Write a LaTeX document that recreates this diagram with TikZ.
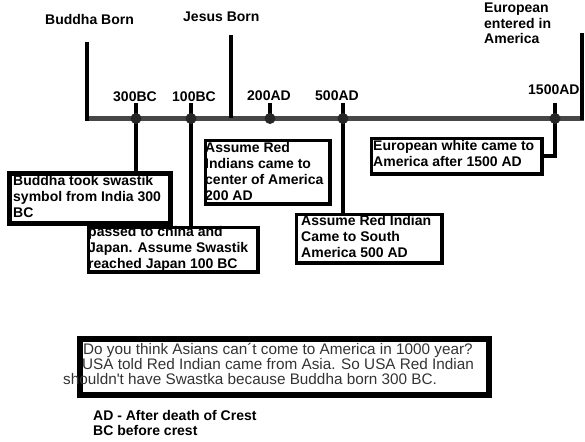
\documentclass[tikz,border=0pt]{standalone}
\usepackage{fontspec}
\setmainfont{Liberation Sans}
\newcommand{\tp}{\rule{0pt}{11pt}}
\begin{document}
\begin{tikzpicture}[x=1pt,y=-1pt,
  lbl/.style={font=\bfseries\fontsize{14}{16}\selectfont, inner sep=0, align=left},
  qtxt/.style={font=\fontsize{15.3}{15}\selectfont, text=black!80, inner sep=0, anchor=base west},
  bx/.style={draw, line width=#1, inner sep=0, anchor=north west},
  bar/.style={draw=black!72, line width=5},
  stem/.style={draw=black, line width=4},
  dot/.style={circle, fill=black!85, minimum size=11pt, inner sep=0}]
\useasboundingbox (0,0) rectangle (585,441);
% timeline
\coordinate (tlL) at (85,118.5);
\coordinate (tlR) at (584,118.5);
\draw[bar] (tlL) -- (tlR);
% tall verticals
\coordinate (vbT) at (87,42);  \coordinate (vbB) at (87,121);
\coordinate (vjT) at (231,35); \coordinate (vjB) at (231,118);
\coordinate (veT) at (582,33); \coordinate (veB) at (582,120);
\draw[stem] (vbT) -- (vbB);
\draw[stem] (vjT) -- (vjB);
\draw[stem] (veT) -- (veB);
% top labels
\node[lbl, anchor=base west] (lbud) at (45,25) {Buddha Born};
\node[lbl, anchor=base west] (ljes) at (183,22) {Jesus Born};
\node[lbl, anchor=north west, font=\bfseries\fontsize{14}{15.5}\selectfont] (leur) at (484,1.5) {\tp European\\entered in\\America};
% year labels
\node[lbl, anchor=base west] (y1) at (113,102) {300BC};
\node[lbl, anchor=base west] (y2) at (172,102) {100BC};
\node[lbl, anchor=base west] (y3) at (247,100) {200AD};
\node[lbl, anchor=base west] (y4) at (315,100) {500AD};
\node[lbl, anchor=base west] (y5) at (528,95) {1500AD};
% texts in boxes
\node[lbl, anchor=north west] (t1) at (13,174) {\tp Buddha took swastik\\symbol from India 300\\BC};
\node[lbl, anchor=north west] (t2) at (88,225) {\tp passed to china and\\Japan. Assume Swastik\\reached Japan 100 BC};
\node[lbl, anchor=north west] (t3) at (205,141) {\tp Assume Red\\Indians came to\\center of America\\200 AD};
\node[lbl, anchor=north west] (t4) at (301,214) {\tp Assume Red Indian\\Came to South\\America 500 AD};
\node[lbl, anchor=north west] (t5) at (373,139) {\tp European white came to\\America after 1500 AD};
% boxes
\node[bx=5, minimum width=161, minimum height=50] (b1) at (6.5,170.5) {};
\node[bx=3.5, minimum width=169.5, minimum height=44.5] (b2) at (86.75,225.75) {};
\node[bx=3.5, minimum width=124.5, minimum height=63.5] (b3) at (203.75,138.75) {};
\node[bx=3.5, minimum width=145.5, minimum height=48.5] (b4) at (294.75,212.75) {};
\node[bx=3.5, minimum width=170.5, minimum height=35.5] (b5) at (369.75,136.75) {};
\node[bx=6, minimum width=409, minimum height=56] (b6) at (77,336) {};
% markers positions
\coordinate (p1) at (136,118.5);
\coordinate (p2) at (191,118.5);
\coordinate (p3) at (270,118.5);
\coordinate (p4) at (343,118.5);
\coordinate (p5) at (555,118.5);
% stubs up
\coordinate (s1) at (136,103);
\coordinate (s2) at (191,103);
\coordinate (s3) at (270,103);
\coordinate (s4) at (343,103);
\coordinate (s5) at (555,103);
\draw[stem] (s1) -- (p1);
\draw[stem] (s2) -- (p2);
\draw[stem] (s3) -- (p3);
\draw[stem] (s4) -- (p4);
\draw[stem] (s5) -- (p5);
% connectors down
\draw[stem] (p1) -- (p1 |- b1.north);
\draw[stem] (p2) -- (p2 |- b2.north);
\draw[stem] (p4) -- (p4 |- b4.north);
\draw[stem] (p5) |- (b5.east);
% markers
\node[dot] (m1) at (p1) {};
\node[dot] (m2) at (p2) {};
\node[dot] (m3) at (p3) {};
\node[dot] (m4) at (p4) {};
\node[dot] (m5) at (p5) {};
% question text
\node[qtxt] (q1) at (83,354) {Do you think Asians can´t come to America in 1000 year?};
\node[qtxt] (q2) at (82,369) {USA told Red Indian came from Asia. So USA Red Indian};
\node[qtxt] (q3) at (63,384) {shouldn\textquotesingle t have Swastka because Buddha born 300 BC.};
% legend
\node[lbl, anchor=base west] (ad) at (93,420) {AD - After death of Crest};
\node[lbl, anchor=base west] (bc) at (93,435) {BC before crest};
\end{tikzpicture}
\end{document}
